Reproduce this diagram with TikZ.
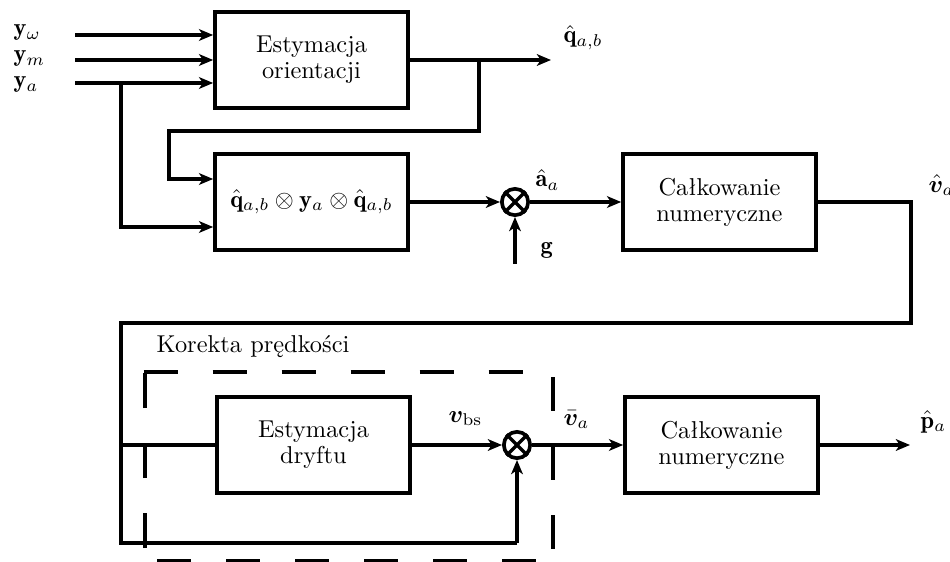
\documentclass[tikz,border=0pt]{standalone}
\usepackage{fontspec}
\usepackage{amsmath,bm}
\usetikzlibrary{arrows.meta,calc}
\begin{document}
\begin{tikzpicture}[x=0.41pt,y=-0.41pt, line width=1.4pt,
  blk/.style={draw, line width=1.55pt, minimum width=79.1pt, minimum height=39.6pt,
    align=center, inner sep=0pt, font=\fontsize{10}{10.6}\selectfont},
  sumnode/.style={draw, circle, line width=1.5pt, minimum size=10.8pt, inner sep=0pt},
  arr/.style={-{Stealth[length=5.8pt,width=4.8pt,inset=1.6pt]}},
  lbl/.style={inner sep=0pt, anchor=base west, font=\fontsize{10}{12}\selectfont},
  dsh/.style={line width=1.4pt}]
\useasboundingbox (0,0) rectangle (950,562);

% blocks
\node[blk] (b1) at (311.5,60) {Estymacja\\orientacji};
\node[blk] (b2) at (311.5,202) {$\hat{\mathbf{q}}_{a,b}\otimes\mathbf{y}_a\otimes\hat{\mathbf{q}}_{a,b}$};
\node[blk] (b3) at (719.5,202) {Całkowanie\\numeryczne};
\node[blk] (b4) at (313.5,445) {Estymacja\\dryftu};
\node[blk] (b5) at (721.5,445) {Całkowanie\\numeryczne};

% summing junctions
\node[sumnode] (s1) at (515,202) {};
\node[sumnode] (s2) at (517,445) {};
\draw[line width=1.4pt] (s1.north east) -- (s1.south west) (s1.north west) -- (s1.south east);
\draw[line width=1.4pt] (s2.north east) -- (s2.south west) (s2.north west) -- (s2.south east);

% labels
\node[lbl] (lw) at (12,36) {$\mathbf{y}_\omega$};
\node[lbl] (lm) at (12,62) {$\mathbf{y}_m$};
\node[lbl] (la) at (12,88) {$\mathbf{y}_a$};
\node[lbl] (lq) at (562,43) {$\hat{\mathbf{q}}_{a,b}$};
\node[lbl] (lacc) at (534,187) {$\hat{\mathbf{a}}_a$};
\node[lbl] (lg) at (539,253) {$\mathbf{g}$};
\node[lbl] (lv) at (927,192) {$\hat{\bm{v}}_a$};
\node[lbl] (lvbs) at (447,422) {$\bm{v}_{\mathrm{bs}}$};
\node[lbl] (lvbar) at (562,425) {$\bar{\bm{v}}_a$};
\node[lbl] (lp) at (919,428) {$\hat{\mathbf{p}}_a$};
\node[lbl] (lk) at (155,352) {Korekta prędkości};

% inputs
\coordinate (i1) at (75,35);
\coordinate (i2) at (75,60);
\coordinate (i3) at (75,83);
\draw[arr] (i1) -- (i1 -| b1.west);
\draw[arr] (i2) -- (i2 -| b1.west);
\draw[arr] (i3) -- (i3 -| b1.west);

% orientation output
\coordinate (o1) at (551,60);
\draw[arr] (b1.east) -- (o1);
\coordinate (br1) at (479,60);
\coordinate (k1) at (169,131);
\coordinate (k2) at (169,179);
\draw[arr] (br1) |- (k1) -- (k2) -- (k2 -| b2.west);

% y_a branch
\coordinate (br2) at (121,83);
\coordinate (k3) at (121,227);
\draw[arr] (br2) -- (k3) -- (k3 -| b2.west);

% second row
\draw[arr] (b2.east) -- (s1.west);
\draw[arr] (s1.east) -- (b3.west);
\coordinate (gin) at (515,264);
\draw[arr] (gin) -- (s1.south);

% feedback to lower row
\coordinate (r1) at (911,202);
\coordinate (r2) at (911,323);
\coordinate (r3) at (121,323);
\coordinate (r4) at (121,543);
\coordinate (r5) at (517,543);
\coordinate (j1) at (121,445);
\draw (b3.east) -- (r1) -- (r2) -- (r3) -- (r4) -- (r5);
\draw[arr] (r5) -- (s2.south);
\draw (j1) -- (b4.west);

% lower row
\draw[arr] (b4.east) -- (s2.west);
\draw[arr] (s2.east) -- (b5.west);
\coordinate (o2) at (910,445);
\draw[arr] (b5.east) -- (o2);

% dashed frame
\coordinate (d1) at (143.5,372);
\coordinate (d2) at (553,372);
\coordinate (d3) at (553,561);
\coordinate (d4) at (145,561);
\coordinate (d5) at (145,370.5);
\draw[dsh, dash pattern=on 13.94pt off 14.35pt, dash phase=0pt] (d1) -- (d2);
\draw[dsh, dash pattern=on 13.94pt off 14.35pt, dash phase=26.24pt] (d2) -- (d3);
\draw[dsh, dash pattern=on 13.94pt off 14.35pt, dash phase=21.32pt] (d3) -- (d4);
\draw[dsh, dash pattern=on 14.35pt off 14.35pt, dash phase=23.37pt] (d4) -- (d5);
\end{tikzpicture}
\end{document}
